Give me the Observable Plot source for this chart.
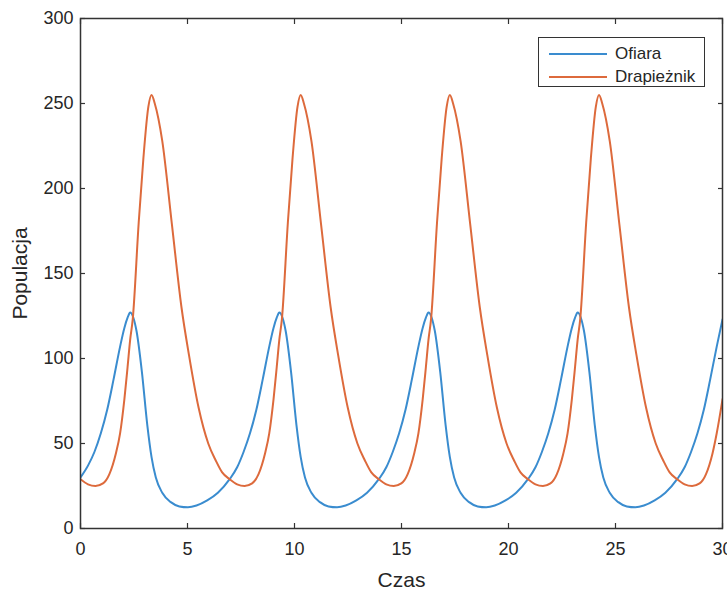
<!DOCTYPE html>
<html>
<head>
<meta charset="utf-8">
<script src="https://cdn.jsdelivr.net/npm/d3@7"></script>
<script src="https://cdn.jsdelivr.net/npm/@observablehq/plot@0.6"></script>
<style>
  html, body { margin: 0; padding: 0; background: #fff; overflow: hidden; }
  #wrap { position: relative; width: 727px; height: 591px; }
  #legend {
    position: absolute; left: 538px; top: 37px; width: 167px; height: 50px;
    border: 1px solid #333; background: #fff; box-sizing: border-box;
    font-family: "Liberation Sans", Arial, sans-serif; font-size: 17px; color: #262626;
  }
  .row { position: absolute; left: 10px; height: 20px; display: flex; align-items: center; }
  .sw { width: 58px; height: 2px; margin-right: 8px; }
</style>
</head>
<body>
<div id="wrap"><div id="chart"></div>
  <div id="legend"></div>
</div>
<script>
// Series names and colours
const seriesNames = ["Ofiara", "Drapieżnik"];
const seriesColors = ["#3a8ccf", "#dd6a3c"];

// Tick labels
const xTicks = [0, 5, 10, 15, 20, 25, 30];
const yTicks = [0, 50, 100, 150, 200, 250, 300];

// Ofiara (prey) — time and population
const preyT = [0.00,0.35,0.65,0.95,1.25,1.55,1.85,2.05,2.20,
  2.32,2.47,2.62,2.87,3.12,3.32,3.52,3.82,4.22,4.62,5.02,5.42,5.92,6.42,6.97,7.32,7.62,7.92,8.22,8.52,8.82,9.02,9.17,
  9.29,9.44,9.59,9.84,10.09,10.29,10.49,10.79,11.19,11.59,11.99,12.39,12.89,13.39,13.94,14.29,14.59,14.89,15.19,15.49,15.79,15.99,16.14,
  16.26,16.41,16.56,16.81,17.06,17.26,17.46,17.76,18.16,18.56,18.96,19.36,19.86,20.36,20.91,21.26,21.56,21.86,22.16,22.46,22.76,22.96,23.11,
  23.23,23.38,23.53,23.78,24.03,24.23,24.43,24.73,25.13,25.53,25.93,26.33,26.83,27.33,27.88,28.23,28.53,28.83,29.13,29.43,29.73,30.00];
const preyV = [30,37,45,56,70,88,107,118,124,
  127,124,116,92,61,42,30,21,15.5,13,12.5,13.5,16.5,21,29,36,45,56,70,88,107,118,124,
  127,124,116,92,61,42,30,21,15.5,13,12.5,13.5,16.5,21,29,36,45,56,70,88,107,118,124,
  127,124,116,92,61,42,30,21,15.5,13,12.5,13.5,16.5,21,29,36,45,56,70,88,107,118,124,
  127,124,116,92,61,42,30,21,15.5,13,12.5,13.5,16.5,21,29,36,45,56,70,88,107,123];

// Drapieżnik (predator)
const predT = [0.00,0.35,0.70,1.05,1.35,1.65,1.85,2.05,2.20,
  2.32,2.44,2.72,2.94,3.17,3.32,3.47,3.82,4.27,4.72,5.07,5.52,5.97,6.32,6.62,6.97,7.32,7.67,8.02,8.32,8.62,8.82,9.02,9.17,
  9.29,9.41,9.69,9.91,10.14,10.29,10.44,10.79,11.24,11.69,12.04,12.49,12.94,13.29,13.59,13.94,14.29,14.64,14.99,15.29,15.59,15.79,15.99,16.14,
  16.26,16.38,16.66,16.88,17.11,17.26,17.41,17.76,18.21,18.66,19.01,19.46,19.91,20.26,20.56,20.91,21.26,21.61,21.96,22.26,22.56,22.76,22.96,23.11,
  23.23,23.35,23.63,23.85,24.08,24.23,24.38,24.73,25.18,25.63,25.98,26.43,26.88,27.23,27.53,27.88,28.23,28.58,28.93,29.23,29.53,29.73,30.00];
const predV = [29,26,25,26.5,32,44,56,76,95,
  111,123,180,218,248,255,250,228,179,130,102,71,50,40,33,29,26,25,26.5,32,44,56,76,95,
  111,123,180,218,248,255,250,228,179,130,102,71,50,40,33,29,26,25,26.5,32,44,56,76,95,
  111,123,180,218,248,255,250,228,179,130,102,71,50,40,33,29,26,25,26.5,32,44,56,76,95,
  111,123,180,218,248,255,250,228,179,130,102,71,50,40,33,29,26,25,26.5,32,44,56,76];

const prey = preyT.map((t, i) => ({t, v: preyV[i]}));
const pred = predT.map((t, i) => ({t, v: predV[i]}));

const ink = "#333";
const chart = Plot.plot({
  width: 727,
  height: 591,
  marginLeft: 80,
  marginRight: 5,
  marginTop: 18,
  marginBottom: 63,
  style: {fontFamily: "'Liberation Sans', Arial, sans-serif", fontSize: "18px", color: "#262626", background: "#fff", overflow: "visible"},
  x: {domain: [0, 30]},
  y: {domain: [0, 300]},
  marks: [
    Plot.line(prey, {x: "t", y: "v", stroke: seriesColors[0], strokeWidth: 2, curve: "monotone-x", clip: true}),
    Plot.line(pred, {x: "t", y: "v", stroke: seriesColors[1], strokeWidth: 2, curve: "monotone-x", clip: true}),
    // inward ticks on all four sides
    Plot.axisX({anchor: "bottom", ticks: xTicks, tickSize: 5, dy: -5, tickFormat: () => "", label: null, stroke: ink, strokeWidth: 1.2}),
    Plot.axisX({anchor: "top", ticks: xTicks, tickSize: 5, dy: 5, tickFormat: () => "", label: null, stroke: ink, strokeWidth: 1.2}),
    Plot.axisY({anchor: "left", ticks: yTicks, tickSize: 5, dx: 5, tickFormat: () => "", label: null, stroke: ink, strokeWidth: 1.2}),
    Plot.axisY({anchor: "right", ticks: yTicks, tickSize: 5, dx: -5, tickFormat: () => "", label: null, stroke: ink, strokeWidth: 1.2}),
    // labels
    Plot.axisX({anchor: "bottom", ticks: xTicks, tickSize: 0, tickPadding: 14, label: "Czas", labelAnchor: "center", labelArrow: "none", labelOffset: 58, fontSize: 18}),
    Plot.axisY({anchor: "left", ticks: yTicks, tickSize: 0, tickPadding: 7, label: "Populacja", labelAnchor: "center", labelArrow: "none", labelOffset: 68, fontSize: 18}),
    Plot.frame({stroke: ink, strokeWidth: 1.5})
  ]
});
// enlarge axis titles
chart.querySelectorAll("g[aria-label='x-axis label'] text, g[aria-label='y-axis label'] text").forEach(t => t.setAttribute("font-size", "21"));
document.getElementById("chart").appendChild(chart);

const legend = document.getElementById("legend");
seriesNames.forEach((name, i) => {
  const row = document.createElement("div");
  row.className = "row";
  row.style.top = (i === 0 ? 6 : 29) + "px";
  const sw = document.createElement("div");
  sw.className = "sw";
  sw.style.background = seriesColors[i];
  const tx = document.createElement("span");
  tx.textContent = name;
  row.appendChild(sw);
  row.appendChild(tx);
  legend.appendChild(row);
});
</script>
</body>
</html>
